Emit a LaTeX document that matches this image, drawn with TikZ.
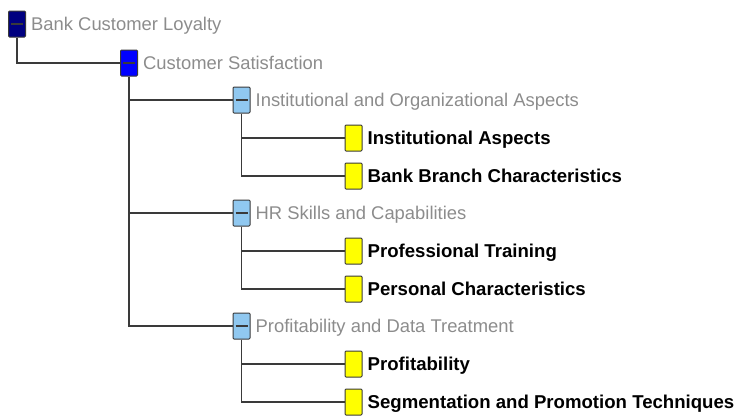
\documentclass[tikz,border=0pt]{standalone}
\usepackage{fontspec}
\setmainfont{Liberation Sans}
\definecolor{navybox}{HTML}{000080}
\definecolor{bluebox}{HTML}{0000FF}
\definecolor{lightbox}{HTML}{90C8F0}
\definecolor{yellowbox}{HTML}{FFFF00}
\definecolor{lbltext}{HTML}{8C8C8C}
\definecolor{linecol}{HTML}{3A3A3A}
\begin{document}
\begin{tikzpicture}[x=1pt,y=-1pt,
  box/.style={draw=linecol, line width=1pt, rounded corners=1pt,
    minimum width=17pt, minimum height=26pt, inner sep=0pt, fill=#1},
  minusbox/.style={box=#1, path picture={\draw[linecol, line width=1.3pt]
    ([xshift=2.5pt]path picture bounding box.west) --
    ([xshift=-2.5pt]path picture bounding box.east);}},
  lbl/.style={anchor=base west, inner sep=0pt, text=lbltext,
    font=\fontsize{18.4}{20}\selectfont},
  leaf/.style={anchor=base west, inner sep=0pt, text=black,
    font=\bfseries\fontsize{18.6}{20}\selectfont},
  conn/.style={draw=linecol, line width=1.4pt}]
\useasboundingbox (0,0) rectangle (736,415);

% group nodes
\node[minusbox=navybox]  (b1) at (17,24)    {};
\node[minusbox=bluebox]  (b2) at (129,63)   {};
\node[minusbox=lightbox] (b3) at (241.5,100) {};
\node[minusbox=lightbox] (b4) at (241.5,213) {};
\node[minusbox=lightbox] (b5) at (241.5,326) {};
% leaves
\node[box=yellowbox] (l1) at (353.5,138) {};
\node[box=yellowbox] (l2) at (353.5,176) {};
\node[box=yellowbox] (l3) at (353.5,251) {};
\node[box=yellowbox] (l4) at (353.5,289) {};
\node[box=yellowbox] (l5) at (353.5,364) {};
\node[box=yellowbox] (l6) at (353.5,402) {};

% labels
\node[lbl]  (t1) at ([xshift=5pt,yshift=-6pt]b1.east) {Bank Customer Loyalty};
\node[lbl]  (t2) at ([xshift=5pt,yshift=-6pt]b2.east) {Customer Satisfaction};
\node[lbl]  (t3) at ([xshift=5pt,yshift=-6pt]b3.east) {Institutional and Organizational Aspects};
\node[lbl]  (t4) at ([xshift=5pt,yshift=-6pt]b4.east) {HR Skills and Capabilities};
\node[lbl]  (t5) at ([xshift=5pt,yshift=-6pt]b5.east) {Profitability and Data Treatment};
\node[leaf] (s1) at ([xshift=5pt,yshift=-6.5pt]l1.east) {Institutional Aspects};
\node[leaf] (s2) at ([xshift=5pt,yshift=-6.5pt]l2.east) {Bank Branch Characteristics};
\node[leaf] (s3) at ([xshift=5pt,yshift=-6.5pt]l3.east) {Professional Training};
\node[leaf] (s4) at ([xshift=5pt,yshift=-6.5pt]l4.east) {Personal Characteristics};
\node[leaf] (s5) at ([xshift=5pt,yshift=-6.5pt]l5.east) {Profitability};
\node[leaf] (s6) at ([xshift=5pt,yshift=-6.5pt]l6.east) {Segmentation and Promotion Techniques};

% connectors
\begin{scope}[on background layer/.try]
\draw[conn] (b1.south) |- (b2.west);
\draw[conn] (b2.south) |- (b3.west);
\draw[conn] (b2.south) |- (b4.west);
\draw[conn] (b2.south) |- (b5.west);
\draw[conn] (b3.south) |- (l1.west);
\draw[conn] (b3.south) |- (l2.west);
\draw[conn] (b4.south) |- (l3.west);
\draw[conn] (b4.south) |- (l4.west);
\draw[conn] (b5.south) |- (l5.west);
\draw[conn] (b5.south) |- (l6.west);
\end{scope}
\end{tikzpicture}
\end{document}
